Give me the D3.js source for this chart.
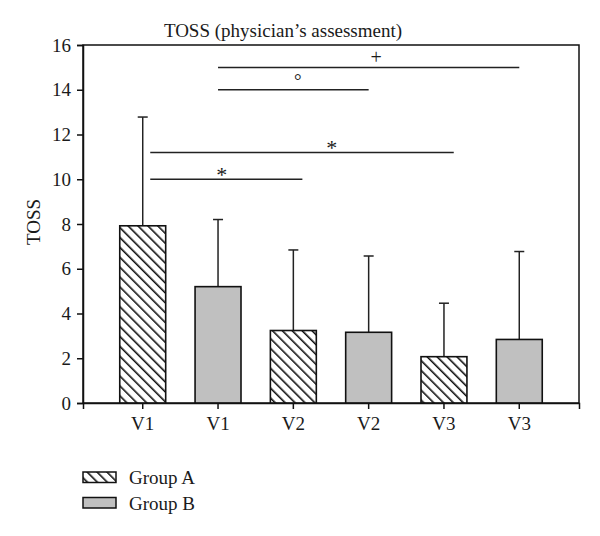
<!DOCTYPE html>
<html>
<head>
<meta charset="utf-8">
<script src="https://cdn.jsdelivr.net/npm/d3@7"></script>
<style>
  body { margin: 0; background: #fff; }
  svg { display: block; }
  text { font-family: "Liberation Serif", "DejaVu Serif", serif; fill: #1a1a1a; }
</style>
</head>
<body>
<svg id="chart" width="600" height="536"></svg>
<script>
// ---- data ----
const categories = ["V1", "V1", "V2", "V2", "V3", "V3"];
const groups = ["A", "B", "A", "B", "A", "B"];
const means = [7.92, 5.2, 3.24, 3.16, 2.07, 2.84];
const errTops = [12.78, 8.2, 6.84, 6.57, 4.46, 6.77];
const yTicks = [0, 2, 4, 6, 8, 10, 12, 14, 16];
const legendLabels = ["Group A", "Group B"];
// significance brackets: positions in category index units
const bracketFrom = [0.1, 0.1, 1, 1];
const bracketTo = [2.12, 4.13, 3, 5];
const bracketY = [10.0, 11.2, 14.0, 15.0];
const bracketSymbols = ["*", "*", "°", "+"];
const symbolPos = [1.05, 2.51, 2.06, 3.1];
const title = "TOSS (physician’s assessment)";
const yLabel = "TOSS";

// ---- layout ----
const svg = d3.select("#chart");
const mLeft = 83, mRight = 579, mTop = 45, mBottom = 403;
const FS = "19px";

const x = d3.scaleBand().domain(d3.range(categories.length))
  .range([mLeft, mRight]).paddingInner(0.39).paddingOuter(0.488);
const step = x.step();
const cx = i => x(0) + x.bandwidth() / 2 + step * i;
const y = d3.scaleLinear().domain([0, 16]).range([mBottom, mTop]);

// hatch pattern (top-left to bottom-right diagonals)
const defs = svg.append("defs");
const pat = defs.append("pattern").attr("id", "hatch")
  .attr("patternUnits", "userSpaceOnUse").attr("width", 7).attr("height", 7)
  .attr("patternTransform", "rotate(-45)");
pat.append("rect").attr("width", 7).attr("height", 7).attr("fill", "#fff");
pat.append("line").attr("x1", 0).attr("y1", 0).attr("x2", 0).attr("y2", 7)
  .attr("stroke", "#111").attr("stroke-width", 3.2);

const fillFor = g => g === "A" ? "url(#hatch)" : "#c0c0c0";

// frame
svg.append("rect").attr("x", mLeft).attr("y", mTop)
  .attr("width", mRight - mLeft).attr("height", mBottom - mTop)
  .attr("fill", "none").attr("stroke", "#111").attr("stroke-width", 1.5);

// error bars (behind bars)
const eb = svg.append("g").attr("stroke", "#222").attr("stroke-width", 1.5);
means.forEach((m, i) => {
  eb.append("line").attr("x1", cx(i)).attr("x2", cx(i)).attr("y1", y(m)).attr("y2", y(errTops[i]));
  eb.append("line").attr("x1", cx(i) - 5).attr("x2", cx(i) + 5).attr("y1", y(errTops[i])).attr("y2", y(errTops[i]));
});

// bars
svg.append("g").selectAll("rect").data(means).join("rect")
  .attr("x", (d, i) => x(i)).attr("width", x.bandwidth())
  .attr("y", d => y(d)).attr("height", d => y(0) - y(d))
  .attr("fill", (d, i) => fillFor(groups[i]))
  .attr("stroke", "#111").attr("stroke-width", 1.6);

// y axis
const yAxis = svg.append("g").attr("transform", `translate(${mLeft},0)`)
  .call(d3.axisLeft(y).tickValues(yTicks).tickSize(6).tickPadding(6));
yAxis.select(".domain").attr("stroke", "#111").attr("stroke-width", 1.5);
yAxis.selectAll(".tick line").attr("stroke", "#111").attr("stroke-width", 1.5);
yAxis.selectAll("text").style("font-size", FS).style("font-family", "Liberation Serif, serif").attr("fill", "#1a1a1a");

// x axis
const xAxis = svg.append("g").attr("transform", `translate(0,${mBottom})`)
  .call(d3.axisBottom(x).tickFormat(i => categories[i]).tickSize(6).tickPadding(8));
xAxis.select(".domain").attr("stroke", "#111").attr("stroke-width", 1.5);
xAxis.selectAll(".tick line").attr("stroke", "#111").attr("stroke-width", 1.5);
xAxis.selectAll("text").style("font-size", FS).style("font-family", "Liberation Serif, serif").attr("fill", "#1a1a1a");

// brackets
const br = svg.append("g");
bracketY.forEach((v, k) => {
  br.append("line").attr("x1", cx(bracketFrom[k])).attr("x2", cx(bracketTo[k]))
    .attr("y1", y(v)).attr("y2", y(v)).attr("stroke", "#222").attr("stroke-width", 1.5);
  const s = bracketSymbols[k];
  br.append("text").attr("x", cx(symbolPos[k]))
    .attr("y", s === "*" ? y(v) + 3 : y(v) - 3)
    .attr("text-anchor", "middle")
    .style("font-size", s === "*" ? "22px" : s === "+" ? "20px" : "19px")
    .text(s);
});

// title
svg.append("text").attr("x", 283).attr("y", 37).attr("text-anchor", "middle")
  .style("font-size", "19px").text(title);

// y label
svg.append("text").attr("transform", "translate(40,222) rotate(-90)")
  .attr("text-anchor", "middle").style("font-size", "19px").text(yLabel);

// legend
const lg = svg.append("g");
legendLabels.forEach((lab, k) => {
  const ly = 472 + k * 25.5;
  lg.append("rect").attr("x", 83).attr("y", ly).attr("width", 33).attr("height", 10.5)
    .attr("fill", k === 0 ? "url(#hatch)" : "#c0c0c0").attr("stroke", "#111").attr("stroke-width", 1.5);
  lg.append("text").attr("x", 129).attr("y", ly + 12).style("font-size", "19px").text(lab);
});
</script>
</body>
</html>
